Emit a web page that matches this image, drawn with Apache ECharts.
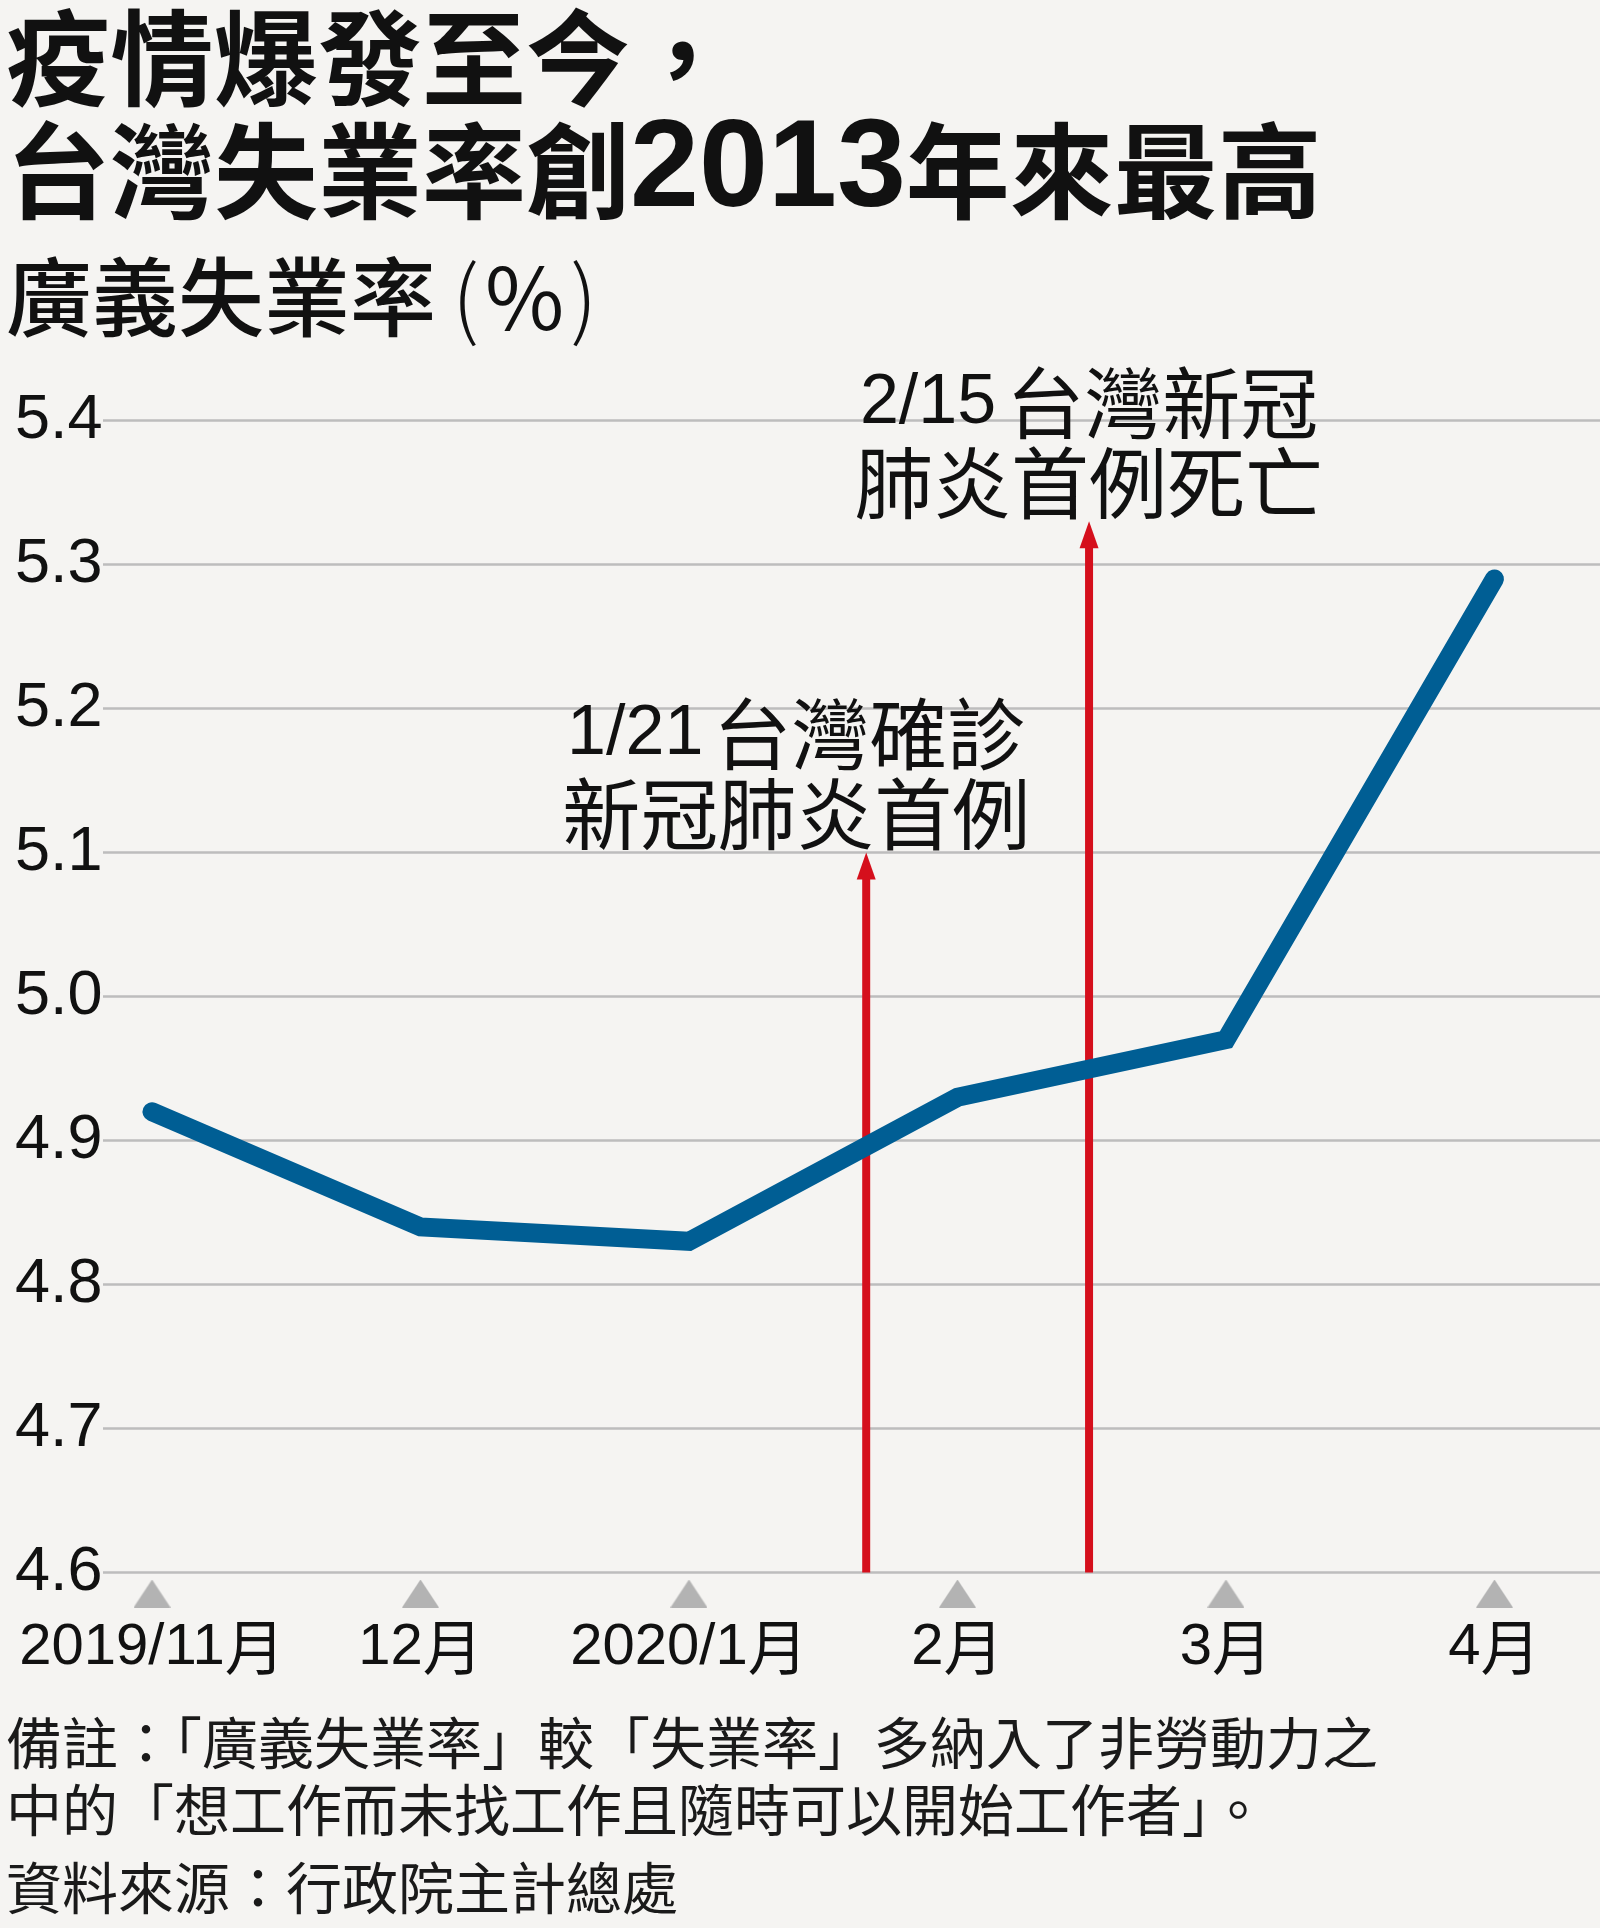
<!DOCTYPE html>
<html>
<head>
<meta charset="utf-8">
<script src="https://cdn.jsdelivr.net/npm/echarts@6/dist/echarts.min.js"></script>
<style>
html,body{margin:0;padding:0;background:#f5f4f2;}
#chart{width:1600px;height:1928px;}
</style>
</head>
<body>
<div id="chart"></div>
<script>
// ---- data ----
const categories = ['2019/11月', '12月', '2020/1月', '2月', '3月', '4月'];
const broadUnemployment = [4.92, 4.84, 4.83, 4.93, 4.97, 5.29];
const yTicks = [4.6, 4.7, 4.8, 4.9, 5.0, 5.1, 5.2, 5.3, 5.4];
const eventPositions = [2.66, 3.49];      // position between months (1/21, 2/15)
const eventArrowTops = [5.10, 5.33];
const eventLabels = ['{n|1/21}{c|台灣確診}\n{c|新冠肺炎首例}', '{n|2/15}{c|台灣新冠}\n{c|肺炎首例死亡}'];

const titleText = '{b|疫情爆發至今，}\n{b|台灣失業率創}{n|2013}{b|年來最高}';
const subtitleText = '{a|廣義失業率}{l|(}{q|%}{r|)}';
const noteText = '備註：「廣義失業率」較「失業率」多納入了非勞動力之\n中的「想工作而未找工作且隨時可以開始工作者」。';
const sourceText = '資料來源：行政院主計總處';

// ---- styles ----
const CJK = '"Noto Sans CJK TC","Noto Sans CJK SC",sans-serif';
const NARROW = '"Liberation Sans Narrow","Liberation Sans",sans-serif';
const RED = '#d50f1c';
const BLUE = '#005e94';
const Y_MIN = yTicks[0], Y_MAX = yTicks[yTicks.length - 1];

// triangle marker image for x tick labels
const tri = document.createElement('canvas');
tri.width = 37; tri.height = 28;
(function(){
  const c = tri.getContext('2d');
  c.fillStyle = '#b3b3b3';
  c.beginPath(); c.moveTo(18.5, 0); c.lineTo(37, 28); c.lineTo(0, 28); c.closePath(); c.fill();
})();

const chart = echarts.init(document.getElementById('chart'), null, {renderer: 'canvas'});

const labelDx = [-70, 0];
const subStyle = {fontFamily: CJK, fontWeight: 500, fontSize: 86, lineHeight: 86, color: '#111'};

chart.setOption({
  backgroundColor: '#f5f4f2',
  animation: false,
  title: [
    {
      text: titleText, left: 6, top: 2, padding: 0,
      textStyle: {
        rich: {
          b: {fontFamily: CJK, fontWeight: 'bold', fontSize: 104, lineHeight: 113, color: '#111'},
          n: {fontFamily: NARROW, fontWeight: 'bold', fontSize: 124, lineHeight: 113, color: '#111'}
        }
      }
    },
    {
      text: subtitleText, left: 6, top: 254, padding: 0,
      textStyle: {
        rich: {
          a: subStyle,
          l: Object.assign({}, subStyle, {fontWeight: 300, padding: [0, 0, 0, 16]}),
          q: Object.assign({}, subStyle, {fontWeight: 400, padding: [0, 6, 0, 6]}),
          r: Object.assign({}, subStyle, {fontWeight: 300})
        }
      }
    },
    {
      text: noteText, left: 6, top: 1709, padding: 0,
      textStyle: {fontFamily: CJK, fontWeight: 'normal', fontSize: 56, lineHeight: 67, color: '#1a1a1a'}
    },
    {
      text: sourceText, left: 6, top: 1860, padding: 0,
      textStyle: {fontFamily: CJK, fontWeight: 'normal', fontSize: 56, lineHeight: 56, color: '#1a1a1a'}
    }
  ],
  grid: {left: 103, right: 0, top: 420.5, bottom: 1928 - 1572.5, containLabel: false},
  xAxis: {
    type: 'value', min: -0.1825, max: 5.393,
    splitLine: {show: false}, axisLine: {show: false}, axisTick: {show: false},
    axisLabel: {
      customValues: categories.map((c, i) => i),
      margin: 7,
      verticalAlign: 'top',
      formatter: function (v) {
        const c = categories[Math.round(v)] || '';
        const num = c.replace(/月$/, '');
        return '{tri|}\n{d|' + num + '}{m|月}';
      },
      rich: {
        tri: {width: 37, height: 28, lineHeight: 28, backgroundColor: {image: tri}},
        d: {fontFamily: NARROW, fontSize: 58, lineHeight: 80, color: '#111'},
        m: {fontFamily: CJK, fontSize: 60, lineHeight: 80, color: '#111'}
      }
    }
  },
  yAxis: {
    type: 'value', min: Y_MIN, max: Y_MAX, interval: 0.1,
    axisLine: {show: false}, axisTick: {show: false},
    axisLabel: {
      align: 'left', margin: 88, fontFamily: NARROW, fontSize: 63, color: '#111',
      formatter: v => v.toFixed(1)
    },
    splitLine: {lineStyle: {color: '#bdbdbd', width: 2.5}}
  },
  series: [
    {
      type: 'custom',
      z: 2,
      data: eventPositions.map((x, i) => [x, eventArrowTops[i]]),
      renderItem: function (params, api) {
        const i = params.dataIndex;
        const x = api.value(0), top = api.value(1);
        const base = api.coord([x, Y_MIN]);
        const tip = api.coord([x, top]);
        const headH = 27, headW = 19;
        return {
          type: 'group',
          children: [
            {type: 'line', shape: {x1: base[0], y1: base[1], x2: tip[0], y2: tip[1] + headH - 2},
             style: {stroke: RED, lineWidth: 8}},
            {type: 'polygon', shape: {points: [[tip[0], tip[1]], [tip[0] - headW / 2, tip[1] + headH], [tip[0] + headW / 2, tip[1] + headH]]},
             style: {fill: RED}},
            {type: 'text', x: tip[0] + labelDx[i], y: tip[1] + 2,
             style: {
               text: eventLabels[i], align: 'center', verticalAlign: 'bottom', fill: '#111',
               fontFamily: CJK, fontSize: 78, lineHeight: 80,
               rich: {
                 n: {fontFamily: NARROW, fontSize: 70, lineHeight: 80, fill: '#111', padding: [0, 10, 0, 0]},
                 c: {fontFamily: CJK, fontSize: 78, lineHeight: 80, fill: '#111'}
               }
             }}
          ]
        };
      }
    },
    {
      type: 'line',
      z: 3,
      data: broadUnemployment.map((v, i) => [i, v]),
      symbol: 'none',
      lineStyle: {color: BLUE, width: 19, cap: 'round', join: 'miter'}
    }
  ]
});
</script>
</body>
</html>
